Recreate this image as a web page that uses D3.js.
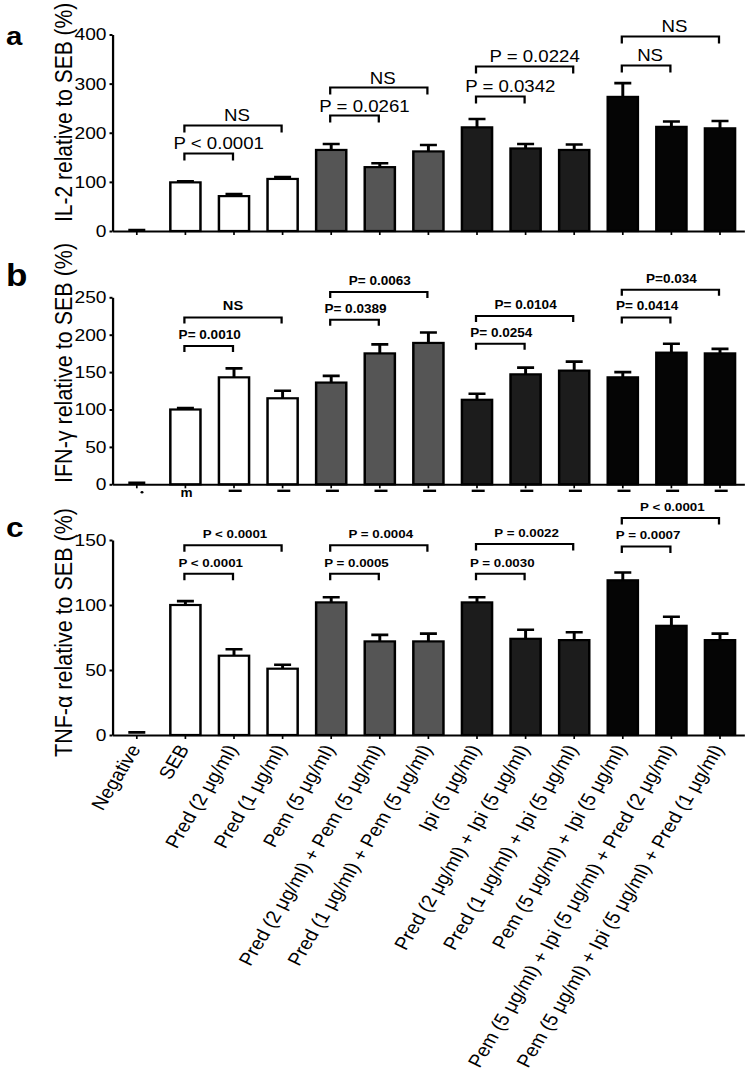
<!DOCTYPE html>
<html><head><meta charset="utf-8">
<script src="https://cdn.jsdelivr.net/npm/d3@7"></script>
<style>
body{margin:0;background:#fff}
svg{display:block}
text{font-family:"Liberation Sans",Arial,Helvetica,sans-serif;fill:#000}
</style>
</head><body><svg id="chart" width="750" height="1088"></svg>
<script>
// ---------------- data ----------------
const categories = [
  "Negative","SEB","Pred (2 μg/ml)","Pred (1 μg/ml)","Pem (5 μg/ml)",
  "Pred (2 μg/ml) + Pem (5 μg/ml)","Pred (1 μg/ml) + Pem (5 μg/ml)","Ipi (5 μg/ml)",
  "Pred (2 μg/ml) + Ipi (5 μg/ml)","Pred (1 μg/ml) + Ipi (5 μg/ml)",
  "Pem (5 μg/ml) + Ipi (5 μg/ml)","Pem (5 μg/ml) + Ipi (5 μg/ml) + Pred (2 μg/ml)",
  "Pem (5 μg/ml) + Ipi (5 μg/ml) + Pred (1 μg/ml)"];
const groupOf = [0,1,1,1,2,2,2,3,3,3,4,4,4];
const groupFills = ["#ffffff","#ffffff","#555555","#1c1c1c","#050505"];

const il2Mean = [1,99,71,106,165,130,162,211,168,165,273,212,209];
const il2Sem  = [1,2,4,4,12,8,13,17,9,11,28,11,15];
const ifnMean = [1,100,143,115,136,175,189,113,147,152,143,176,175];
const ifnSem  = [1,2,12,10,9,12,14,8,9,12,7,12,6];
const tnfMean = [1,100,61,51,102,72,72,102,74,73,119,84,73];
const tnfSem  = [1,3,5,3,4,5,6,4,7,6,6,7,5];

const il2Ticks = [0,100,200,300,400];
const ifnTicks = [0,50,100,150,200,250];
const tnfTicks = [0,50,100,150];

const il2CmpFrom  = [1,1,4,4,7,7,10,10];
const il2CmpTo    = [2,3,5,6,8,9,11,12];
const il2CmpLevel = [158,215,235,292,274,335,337,396];
const il2CmpLabel = ["P < 0.0001","NS","P = 0.0261","NS","P = 0.0342","P = 0.0224","NS","NS"];

const ifnCmpFrom  = [1,1,4,4,7,7,10,10];
const ifnCmpTo    = [2,3,5,6,8,9,11,12];
const ifnCmpLevel = [185,223,220,257,188,225,223,260];
const ifnCmpLabel = ["P= 0.0010","NS","P= 0.0389","P= 0.0063","P= 0.0254","P= 0.0104","P= 0.0414","P=0.034"];

const tnfCmpFrom  = [1,1,4,4,7,7,10,10];
const tnfCmpTo    = [2,3,5,6,8,9,11,12];
const tnfCmpLevel = [124,146,124,146,124,147,145,167];
const tnfCmpLabel = ["P < 0.0001","P < 0.0001","P = 0.0005","P = 0.0004","P = 0.0030","P = 0.0022","P = 0.0007","P < 0.0001"];

// ---------------- layout ----------------
const SX = 1.13; // horizontal stretch of the whole figure
const svg = d3.select("#chart");
const root = svg.append("g").attr("transform", `scale(${SX},1)`);
const px = v => v / SX; // final pixel x -> pre-stretch x

const x = d3.scaleBand().domain(categories)
  .range([px(112.5), px(744.3)]).paddingInner(0.38).paddingOuter(0.19);
const cx = i => x(categories[i]) + x.bandwidth()/2;

const panels = [
  {letter:"a", letterSize:26, letterY:45, title:"IL-2 relative to SEB (%)", titleBottom:222, titleSize:21,
   mean:il2Mean, sem:il2Sem, ticks:il2Ticks, y0:231, y1:34.5, dmax:400,
   cf:il2CmpFrom, ct:il2CmpTo, cl:il2CmpLevel, clab:il2CmpLabel,
   cmpFont:16.5, nsFont:16.5, cmpWeight:"normal", gap:4, leg:7, pShift:10, nsShift:4},
  {letter:"b", letterSize:31, letterY:286, title:"IFN-γ relative to SEB (%)", titleBottom:483, titleSize:21.5,
   mean:ifnMean, sem:ifnSem, ticks:ifnTicks, y0:484.3, y1:297.3, dmax:250,
   cf:ifnCmpFrom, ct:ifnCmpTo, cl:ifnCmpLevel, clab:ifnCmpLabel,
   cmpFont:12, nsFont:13, cmpWeight:"bold", gap:7, leg:6, pShift:1, nsShift:0, stubs:true},
  {letter:"c", letterSize:28, letterY:537, title:"TNF-α relative to SEB (%)", titleBottom:757, titleSize:21.5,
   mean:tnfMean, sem:tnfSem, ticks:tnfTicks, y0:735, y1:540, dmax:150,
   cf:tnfCmpFrom, ct:tnfCmpTo, cl:tnfCmpLevel, clab:tnfCmpLabel,
   cmpFont:11.8, nsFont:11.8, cmpWeight:"bold", gap:7, leg:6.5, pShift:2, nsShift:0, labels:true}
];

panels.forEach(p => {
  const y = d3.scaleLinear().domain([0,p.dmax]).range([p.y0,p.y1]);
  const g = root.append("g");

  // panel letter
  g.append("text").attr("x", px(6)).attr("y", p.letterY)
    .attr("font-size", p.letterSize).attr("font-weight","bold").text(p.letter);

  // y title
  g.append("text")
    .attr("transform", `translate(${px(72)},${p.titleBottom}) rotate(-90)`)
    .attr("font-size", p.titleSize).attr("text-anchor","start").text(p.title);

  // bars
  const idx = d3.range(categories.length);
  g.append("g").selectAll("rect").data(idx.filter(i => (y(0)-y(p.mean[i])) > 2)).join("rect")
    .attr("x", i => x(categories[i]))
    .attr("width", x.bandwidth())
    .attr("y", i => y(p.mean[i]))
    .attr("height", i => y(0) - y(p.mean[i]))
    .attr("fill", i => groupFills[groupOf[i]])
    .attr("stroke","#000").attr("stroke-width",2.2);

  // error bars (upper only)
  const capW = px(17);
  const eb = g.append("g").attr("stroke","#000").attr("stroke-width",2.6).attr("fill","none");
  eb.selectAll("path").data(idx).join("path")
    .attr("d", i => {
      const c = cx(i), t = y(p.mean[i]+p.sem[i]), b = y(p.mean[i]);
      return `M${c},${b}V${t}M${c-capW/2},${t}H${c+capW/2}`;
    });

  // y axis
  const ya = g.append("g").attr("transform", `translate(${x.range()[0]},0)`)
    .call(d3.axisLeft(y).tickValues(p.ticks).tickSize(px(3)).tickSizeOuter(0).tickPadding(px(3)));
  ya.select(".domain").attr("stroke-width",2);
  ya.selectAll(".tick line").attr("stroke-width",2);
  ya.selectAll(".tick text").attr("font-size",17).attr("font-family",null).attr("fill","#000");

  // x axis
  const xa = g.append("g").attr("transform", `translate(0,${p.y0})`)
    .call(d3.axisBottom(x).tickSize(4).tickSizeOuter(0)
      .tickFormat(p.labels ? (d => d) : () => ""));
  xa.select(".domain").attr("stroke-width",2);
  xa.selectAll(".tick line").attr("stroke-width",1.5);
  if (p.labels) {
    xa.selectAll(".tick text")
      .attr("font-size",18).attr("font-family",null).attr("fill","#000")
      .attr("x",0).attr("y",0).attr("dy","0.35em")
      .attr("text-anchor","end")
      .attr("transform", `translate(${px(-2)},11) rotate(-61.5)`);
  }
  if (p.stubs) {
    // remnants of clipped tick labels under panel b
    const st = g.append("g");
    idx.forEach(i => {
      const c = cx(i) + px(1.2);
      if (i === 0) {
        st.append("circle").attr("cx", c + px(4)).attr("cy", p.y0 + 8).attr("r", 1.3);
      } else if (i === 1) {
        st.append("text").attr("x", c).attr("y", p.y0 + 13).attr("text-anchor","middle")
          .attr("font-size", 12).attr("font-weight","bold").text("m");
      } else {
        st.append("line").attr("x1", c - px(6.5)).attr("x2", c + px(6.5))
          .attr("y1", p.y0 + 6.5).attr("y2", p.y0 + 6.5)
          .attr("stroke","#000").attr("stroke-width",2.4);
      }
    });
  }

  // significance brackets
  const bg = g.append("g");
  p.cf.forEach((f,k) => {
    const x1 = cx(f) - px(1), x2 = cx(p.ct[k]) - px(1), yb = y(p.cl[k]);
    bg.append("path")
      .attr("d", `M${x1},${yb+p.leg}V${yb}H${x2}V${yb+p.leg}`)
      .attr("fill","none").attr("stroke","#000").attr("stroke-width",2);
    const lab = p.clab[k];
    const isNS = lab === "NS";
    bg.append("text")
      .attr("x", (x1+x2)/2 + px(isNS ? p.nsShift : p.pShift)).attr("y", yb - p.gap)
      .attr("text-anchor","middle").attr("font-size", isNS ? p.nsFont : p.cmpFont)
      .attr("font-weight", p.cmpWeight).text(lab);
  });
});
</script>
</body></html>
